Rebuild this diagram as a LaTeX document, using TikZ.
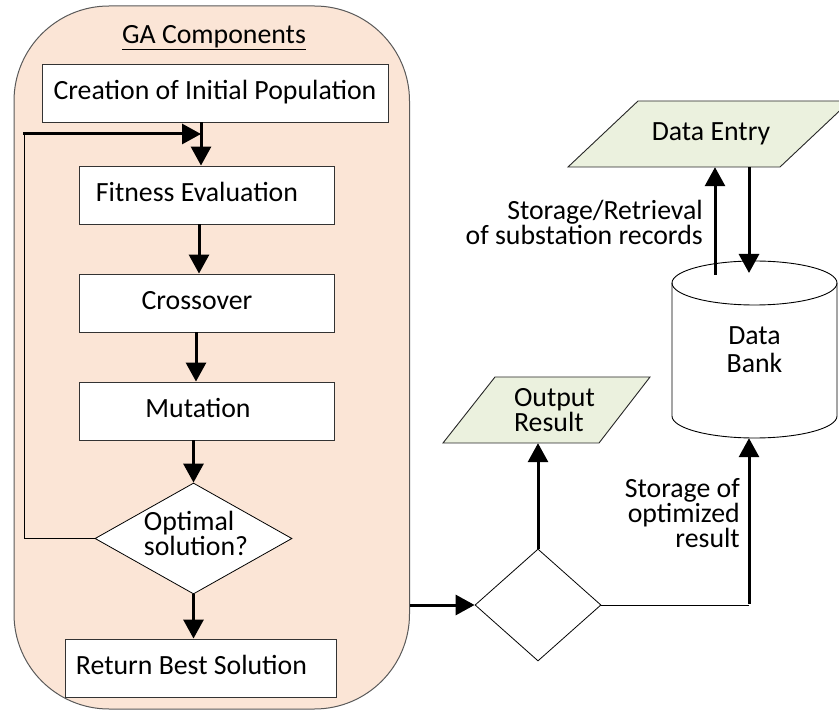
\documentclass[tikz,border=0pt]{standalone}
\usepackage{fontspec}
\setmainfont{Carlito}
\usetikzlibrary{arrows.meta,shapes.geometric,calc}
\definecolor{gafill}{HTML}{FBE5D6}
\definecolor{iofill}{HTML}{EBF1DE}
\begin{document}
\begin{tikzpicture}[x=1pt,y=-1pt,
  txt/.style={font=\fontsize{27.8}{25}\selectfont},
  stepbox/.style={draw=black!80, fill=white, line width=0.9pt, minimum height=58pt,
    inner sep=0pt, txt, text height=18pt, text depth=5pt},
  decision/.style={diamond, draw=black, fill=white, line width=0.8pt, inner sep=0pt},
  iobox/.style={draw=black!85, fill=iofill, line width=0.9pt},
  thinline/.style={line width=1pt},
  arr/.style={line width=3pt, -{Triangle[length=19pt,width=20pt]}},
  lbl/.style={txt, align=right, anchor=east, inner sep=0pt}
]
\useasboundingbox (0,0) rectangle (839,711);
\clip (0,0) rectangle (839,711);

% GA components container
\node[draw=black!65, fill=gafill, rounded corners=95pt, line width=1pt,
      minimum width=395.5pt, minimum height=703pt] (ga) at (211.75,357.5) {};
\node[txt] (title) at (214,38) {\underline{GA Components}};

% GA steps
\node[stepbox, minimum width=346pt] (cip) at (215,93) {Creation of Initial Population};
\node[stepbox, minimum width=255pt] (fit) at (206.5,195) {Fitness Evaluation\hspace*{19pt}};
\node[stepbox, minimum width=255pt] (cro) at (206.5,303) {Crossover\hspace*{19pt}};
\node[stepbox, minimum width=255pt] (mut) at (206.5,411) {Mutation\hspace*{17pt}};
\node[decision, minimum width=197pt, minimum height=111pt, aspect=1.77] (opt) at (193.5,538.5) {};
\node[txt, align=left, inner sep=0pt] (optt) at (196,533) {Optimal\\solution?};
\node[stepbox, minimum width=271pt] (ret) at (200.5,668) {Return Best Solution\hspace*{18pt}};

% GA flow
\coordinate (j) at (201,134);
\coordinate (lc) at (24,134);
\draw[arr] (cip.south -| j) -- (fit.north -| j);
\draw[thinline] (opt.west) -| (lc);
\draw[arr] ([xshift=-1pt]lc) -- (j);
\draw[arr] ([xshift=-7.5pt]fit.south) -- ([xshift=-7.5pt]cro.north);
\draw[arr] ([xshift=-10.5pt]cro.south) -- ([xshift=-10.5pt]mut.north);
\draw[arr] (mut.south -| opt.north) -- (opt.north);
\draw[arr] (opt.south) -- (ret.north -| opt.south);

% decision outside the GA block
\node[decision, minimum width=126pt, minimum height=112pt, aspect=1.125] (d2) at (538,605) {};
\draw[arr] (ga.east |- d2.west) -- (d2.west);

% output result
\draw[iobox] (443,443) -- (495,377) -- (650,377) -- (599,443) -- cycle;
\node[txt, align=left, inner sep=0pt, minimum height=66pt] (out) at (554.5,410) {Output\\Result};
\draw[arr] (d2.north) -- (d2.north |- out.south);

% data entry
\draw[iobox] (568,167) -- (638,101) -- (850,101) -- (780,167) -- cycle;
\node[txt, inner sep=0pt, minimum height=66pt] (entry) at (711,134) {Data Entry};

% data bank cylinder
\draw[draw=black, fill=white, line width=0.9pt] (672,283) -- (672,416)
  arc[start angle=180, end angle=360, x radius=82.5pt, y radius=22pt] -- (837,283)
  arc[start angle=0, end angle=180, x radius=82.5pt, y radius=22pt] -- cycle;
\draw[line width=0.9pt] (672,283)
  arc[start angle=180, end angle=360, x radius=82.5pt, y radius=22pt];
\node[minimum width=165pt, minimum height=177pt, inner sep=0pt, align=center,
      font=\fontsize{27.8}{28}\selectfont] (bank) at (754.5,349.5) {Data\\Bank};

% storage / retrieval links
\coordinate (bu) at (715,275);
\coordinate (bd) at (749,273);
\draw[arr] (bu) -- (bu |- entry.south);
\draw[arr] (bd |- entry.south) -- (bd);
\node[lbl] (lab1) at (703,222) {Storage/Retrieval\\of substation records};

\coordinate (c2) at (749,605);
\draw[thinline] (d2.east) -- (c2);
\draw[arr] ([yshift=1.5pt]c2) -- (c2 |- bank.south);
\node[lbl] (lab2) at (740,513) {Storage of\\optimized\hspace*{7pt}\\result};
\end{tikzpicture}
\end{document}
